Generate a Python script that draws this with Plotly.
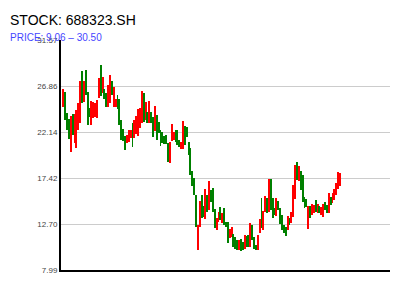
import plotly.graph_objects as go

ticker = "688323.SH"
price_min = 9.06
price_max = 30.50

opens = [
    24.70, 26.24, 24.09, 23.47, 20.09, 23.98, 21.01, 20.50, 22.34, 23.06,
    28.39, 25.21, 28.49, 26.24, 24.60, 22.86, 23.57, 23.67, 23.57, 25.62,
    29.01, 26.14, 26.55, 26.14, 24.70, 25.11, 27.37, 24.70, 24.70, 25.93,
    25.52, 23.37, 22.45, 21.73, 21.01, 21.11, 21.52, 23.06, 21.52, 21.93,
    21.73, 22.55, 23.06, 26.14, 23.37, 24.19, 23.06, 24.19, 23.67, 22.24,
    23.88, 23.16, 22.34, 22.14, 21.73, 21.83, 21.01, 18.96, 21.22, 21.32,
    22.34, 22.34, 21.32, 20.39, 20.39, 22.75, 22.65, 21.11, 20.50, 18.14,
    17.42, 15.68, 10.04, 12.40, 15.68, 14.55, 13.22, 15.68, 14.14, 16.19,
    16.40, 14.24, 12.09, 12.91, 14.45, 12.81, 14.35, 12.91, 12.91, 11.27,
    11.37, 11.68, 11.37, 11.07, 10.04, 11.17, 10.86, 10.14, 11.48, 11.58,
    10.35, 12.60, 11.37, 10.55, 10.04, 11.78, 15.37, 12.09, 13.94, 15.37,
    13.94, 17.32, 15.37, 14.35, 13.53, 15.06, 14.35, 13.63, 12.60, 12.40,
    12.09, 13.32, 12.81, 13.42, 15.27, 19.06, 17.12, 18.14, 17.73, 15.47,
    15.27, 12.19, 14.55, 13.63, 13.83, 15.17, 13.83, 14.55, 13.63, 13.42,
    14.96, 14.65, 13.83, 15.47, 14.86, 15.17, 15.68, 16.29, 16.60,
]
closes = [
    26.55, 23.37, 22.34, 21.42, 23.78, 21.83, 23.98, 24.39, 25.11, 27.37,
    25.11, 27.37, 25.93, 22.86, 23.67, 25.32, 25.21, 25.11, 25.42, 27.67,
    25.83, 27.78, 25.52, 24.70, 26.96, 27.98, 25.93, 26.75, 25.52, 24.50,
    22.86, 21.32, 21.22, 20.29, 21.83, 22.34, 22.34, 20.60, 23.37, 23.78,
    24.50, 24.60, 26.34, 23.16, 25.21, 23.06, 25.32, 23.06, 21.63, 24.80,
    21.32, 22.04, 20.70, 21.01, 20.91, 20.91, 19.06, 21.11, 22.96, 22.14,
    21.11, 20.81, 20.60, 21.11, 23.26, 20.81, 21.63, 19.78, 17.73, 16.60,
    15.68, 12.40, 12.60, 15.06, 13.32, 13.42, 16.29, 13.94, 17.12, 14.96,
    13.94, 12.30, 13.32, 13.94, 13.12, 13.83, 12.60, 12.40, 10.76, 12.19,
    12.40, 10.35, 10.14, 10.04, 11.07, 9.94, 10.04, 11.58, 10.35, 10.35,
    12.81, 11.07, 10.14, 10.04, 11.58, 13.22, 12.30, 14.04, 15.58, 13.83,
    17.32, 14.14, 13.32, 13.63, 15.37, 14.14, 12.71, 12.09, 11.78, 11.48,
    13.53, 12.60, 13.94, 16.70, 18.76, 17.22, 18.65, 16.19, 14.96, 14.35,
    14.45, 14.55, 13.32, 14.76, 14.65, 13.94, 14.76, 13.83, 14.45, 14.76,
    14.14, 13.83, 15.88, 14.65, 15.88, 16.29, 16.91, 18.04, 17.93,
]

n = len(opens)
x_idx = list(range(n))
bases = [min(o, c) for o, c in zip(opens, closes)]
heights = [abs(c - o) for o, c in zip(opens, closes)]
colors = ["#ff0000" if c >= o else "#008000" for o, c in zip(opens, closes)]

pad = (price_max - price_min) * 0.05
lo, hi = price_min - pad, price_max + pad
tickvals = [lo + (hi - lo) * k / 5 for k in range(6)]
ticktext = [f"{v:.2f}" for v in tickvals]

fig = go.Figure(
    go.Bar(
        x=x_idx, y=heights, base=bases, width=0.5,
        marker=dict(color=colors, line=dict(width=0)),
        hoverinfo="skip",
    )
)

fig.update_layout(
    width=400, height=300,
    margin=dict(l=61, r=10, t=40, b=30),
    paper_bgcolor="white", plot_bgcolor="white",
    showlegend=False,
    font=dict(family="Liberation Sans, Arial, sans-serif"),
    xaxis=dict(
        range=[-1.23, n - 1 + (390 - 340) / 1.87],
        showline=True, linecolor="black", linewidth=2,
        showticklabels=False, showgrid=False, zeroline=False, ticks="",
    ),
    yaxis=dict(
        range=[lo, hi], tickmode="array", tickvals=tickvals, ticktext=ticktext,
        showgrid=True, gridcolor="#cccccc", gridwidth=1,
        showline=True, linecolor="black", linewidth=2, zeroline=False,
        ticks="", tickfont=dict(size=8, color="#444444"),
    ),
    annotations=[
        dict(text=f"STOCK: {ticker}", xref="paper", yref="paper",
             x=-53 / 329, y=(270 - 20) / 230, xanchor="left", yanchor="middle",
             showarrow=False, font=dict(size=14, color="black")),
        dict(text=f"PRICE: {price_min:.2f} \u2013 {price_max:.2f}", xref="paper", yref="paper",
             x=-53 / 329, y=(270 - 37) / 230, xanchor="left", yanchor="middle",
             showarrow=False, font=dict(size=10, color="#4646ff")),
    ],
)

fig.write_html("out.html")
